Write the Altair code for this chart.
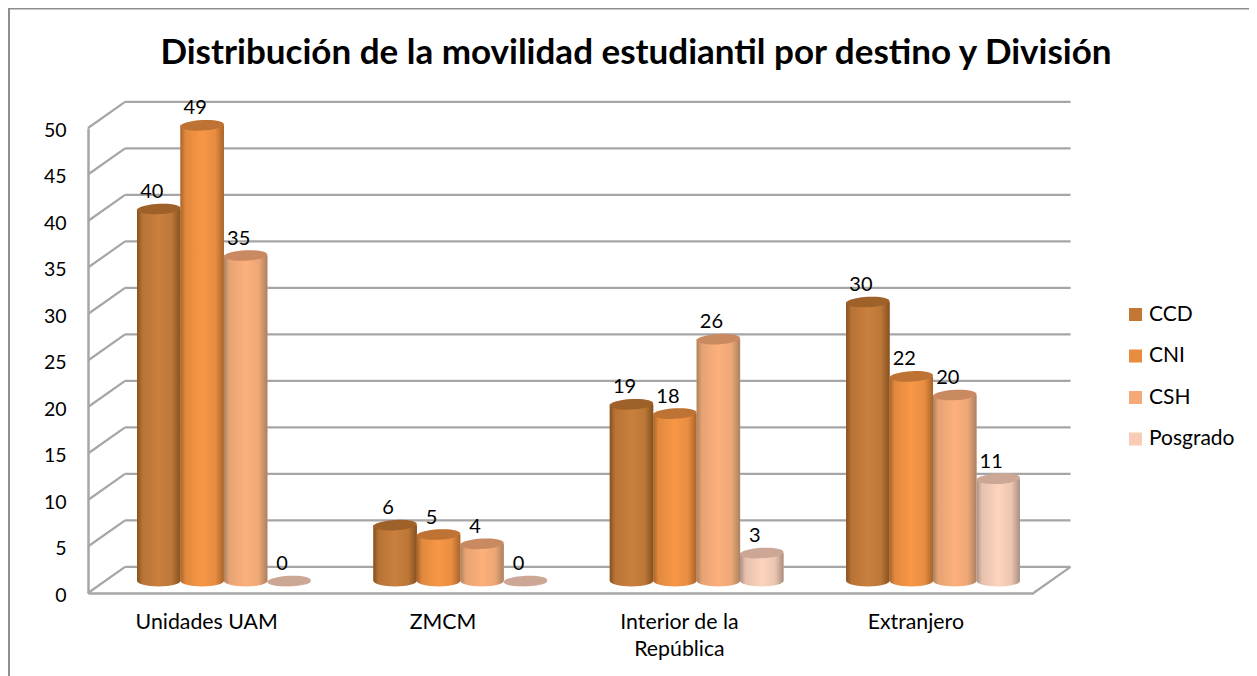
import altair as alt
import pandas as pd

CATEGORIES = ["Unidades UAM", "ZMCM", "Interior de la República", "Extranjero"]
SERIES = ["CCD", "CNI", "CSH", "Posgrado"]
CCD = [40, 6, 19, 30]
CNI = [49, 5, 18, 22]
CSH = [35, 4, 26, 20]
POSGRADO = [0, 0, 3, 11]
TICKS = [0, 5, 10, 15, 20, 25, 30, 35, 40, 45, 50]
COLORS = ["#c27734", "#e88c3f", "#f6a978", "#f9ccb7"]
BODY_EDGE = ["#85511f", "#a8642b", "#ab8160", "#a98e80"]
BODY_MID = ["#ca803e", "#f89746", "#fdb07b", "#fdd4be"]

W, H = 1241, 668
WALL_X, WALL_V = 0.1568, 2.8     # depth of the 3D box in axis units
BAR_X0, BAR_W, BAR_V = 0.2074, 0.1838, 1.29

rows = []
for s, vals in enumerate([CCD, CNI, CSH, POSGRADO]):
    for c, v in enumerate(vals):
        left = c + BAR_X0 + s * BAR_W
        rows.append(dict(series=SERIES[s], order=s, value=v, x=left, x2=left + BAR_W,
                         xc=left + BAR_W / 2, base=BAR_V, top=v + BAR_V))
bars = pd.DataFrame(rows)
grid = pd.DataFrame([dict(v=t, vb=t + WALL_V, x0=0, xb=WALL_X, xr=4 + WALL_X) for t in TICKS])
floor = pd.DataFrame([dict(x=4, x2=4 + WALL_X, y=0, y2=WALL_V)])

xs = alt.Scale(domain=[0, 4], range=[80, 1025.5], nice=False, zero=False)
ys = alt.Scale(domain=[0, 50], range=[585, 120], nice=False, zero=False)
FONT = "Lato"
GRAY = "#a6a6a6"
FRAME = "#8e8e8e"
TOP_ELL = "M-1,0.04 A1,0.24 -3 1,1 1,-0.04 A1,0.24 -3 1,1 -1,0.04 Z"
LOW_ELL = "M-1,0 A1,0.25 0 0,0 1,0 Z"
ESIZE = 43.4 ** 2
label_expr = "[['Unidades UAM'],['ZMCM'],['Interior de la','República'],['Extranjero']][floor(datum.value)]"


def mix(a, b, t):
    pa = [int(a[i:i + 2], 16) for i in (1, 3, 5)]
    pb = [int(b[i:i + 2], 16) for i in (1, 3, 5)]
    return "#" + "".join(f"{round(p + (q - p) * t):02x}" for p, q in zip(pa, pb))


def shade(s):
    e, m = BODY_EDGE[s], BODY_MID[s]
    return alt.Gradient(gradient="linear", x1=0, x2=1, y1=0, y2=0, stops=[
        alt.GradientStop(offset=0, color=e),
        alt.GradientStop(offset=0.12, color=mix(e, m, 0.72)),
        alt.GradientStop(offset=0.5, color=m),
        alt.GradientStop(offset=0.8, color=mix(e, m, 0.8)),
        alt.GradientStop(offset=1, color=e)])


x_axis = alt.Axis(values=[0.5, 1.5, 2.5, 3.5], labelExpr=label_expr, title=None, orient="bottom",
                  offset=585 - H, ticks=False, domainColor=GRAY, domainWidth=2.5, labelFont=FONT,
                  labelFontSize=21.3, labelColor="#000000", labelPadding=18, labelOverlap=False,
                  labelLineHeight=27, grid=False, labelFlush=False)
y_axis = alt.Axis(values=TICKS, title=None, orient="left", offset=-80, ticks=False, domainColor=GRAY,
                  domainWidth=2.5, labelFont=FONT, labelFontSize=19.5, labelColor="#000000", labelPadding=22,
                  labelOffset=2, grid=False)

back = alt.Chart(grid).mark_rule(color=GRAY, strokeWidth=2.2).encode(
    x=alt.X("xb:Q", scale=xs, axis=x_axis), x2="xr:Q",
    y=alt.Y("vb:Q", scale=ys, axis=y_axis))
side = alt.Chart(grid).mark_rule(color=GRAY, strokeWidth=2.2).encode(
    x=alt.X("x0:Q", scale=xs), x2="xb:Q", y=alt.Y("v:Q", scale=ys), y2="vb:Q")
right = alt.Chart(floor).mark_rule(color=GRAY, strokeWidth=2.2).encode(
    x=alt.X("x:Q", scale=xs), x2="x2:Q", y=alt.Y("y:Q", scale=ys), y2="y2:Q")
frame_top = alt.Chart(floor).mark_rule(color=FRAME, strokeWidth=2).encode(
    x=alt.value(0), x2=alt.value(W), y=alt.value(0.5))
frame_left = alt.Chart(floor).mark_rule(color=FRAME, strokeWidth=2).encode(
    x=alt.value(1), y=alt.value(0), y2=alt.value(H))

color = alt.Color("series:N", scale=alt.Scale(domain=SERIES, range=COLORS), sort=SERIES,
                  legend=alt.Legend(orient="none", legendX=1117, legendY=296, title=None, symbolType="square",
                                    symbolSize=169, symbolStrokeWidth=0, labelFont=FONT, labelFontSize=21,
                                    labelColor="#000000", rowPadding=19.5, labelOffset=3))

layers = [frame_top, frame_left, back, side, right]
for s, name in enumerate(SERIES):
    d = bars[bars.series == name]
    b = alt.Chart(d)
    px = alt.X("xc:Q", scale=xs)
    layers += [
        # colour-encoded bar keeps the legend, gradient body covers it
        b.mark_rect(strokeWidth=0).encode(
            x=alt.X("x:Q", scale=xs), x2="x2:Q", y=alt.Y("base:Q", scale=ys), y2="top:Q", color=color),
        b.mark_point(shape=LOW_ELL, size=ESIZE, filled=True, opacity=1, strokeWidth=0, fill=shade(s)).encode(
            x=px, y=alt.Y("base:Q", scale=ys)),
        b.mark_rect(strokeWidth=0, fill=shade(s)).encode(
            x=alt.X("x:Q", scale=xs), x2="x2:Q", y=alt.Y("base:Q", scale=ys), y2="top:Q"),
        b.mark_point(shape=TOP_ELL, size=ESIZE, filled=True, opacity=1, strokeWidth=0).encode(
            x=px, y=alt.Y("top:Q", scale=ys), color=color),
        b.mark_point(shape=TOP_ELL, size=ESIZE, filled=True, opacity=0.18, strokeWidth=0, color="#000000").encode(
            x=px, y=alt.Y("top:Q", scale=ys)),
    ]
text = alt.Chart(bars).mark_text(font=FONT, fontSize=20, color="#000000", dx=-7, dy=-17, baseline="middle").encode(
    x=alt.X("xc:Q", scale=xs), y=alt.Y("top:Q", scale=ys), text="value:Q")
layers.append(text)

chart = alt.layer(*layers).properties(
    width=W, height=H, padding=0, autosize=alt.AutoSizeParams(type="none"), background="#ffffff",
    title=alt.TitleParams("Distribución de la movilidad estudiantil por destino y División", font=FONT,
                          fontSize=35, fontWeight="bold", color="#000000", anchor="middle", dx=7.5,
                          offset=-64, frame="group"),
).configure_view(stroke="transparent")

chart.save("out.html", embed_options={"renderer": "svg", "actions": False})
